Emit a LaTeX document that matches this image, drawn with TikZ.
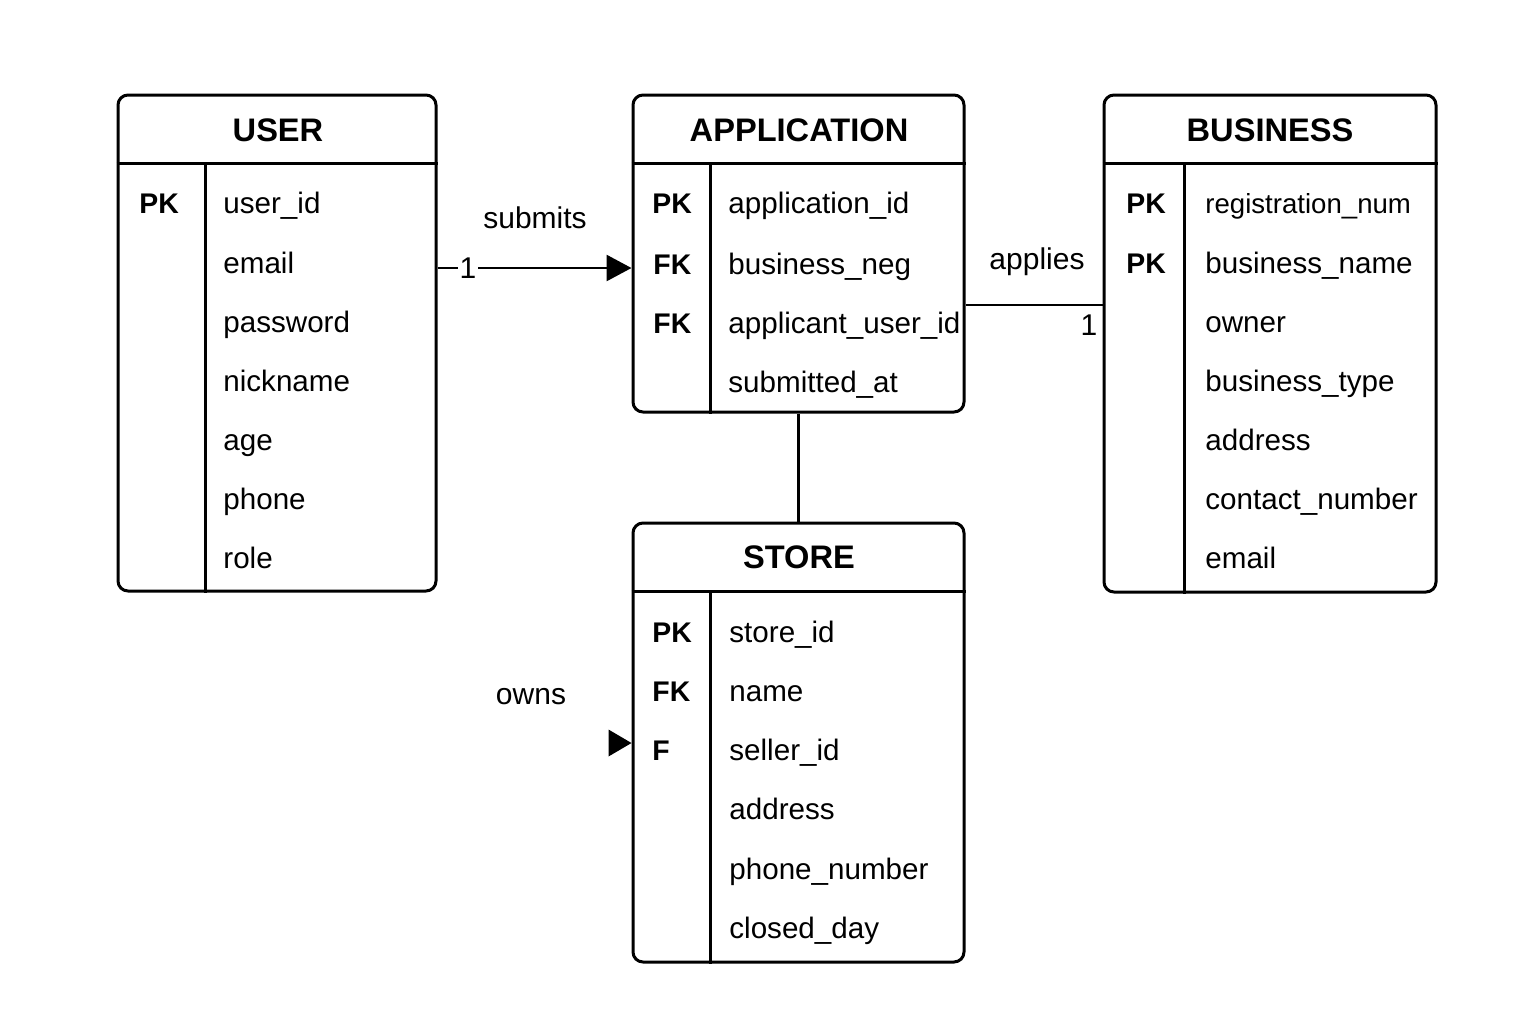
\documentclass[tikz,border=0pt]{standalone}
\usepackage{fontspec}
\setmainfont{Liberation Sans}
\usetikzlibrary{arrows.meta}
\begin{document}
\begin{tikzpicture}[x=0.5pt,y=-0.5pt,
  tbl/.style={draw, line width=1.5pt, rounded corners=5pt, rectangle, inner sep=0pt},
  ttl/.style={anchor=base, inner sep=0pt, font=\fontsize{16.3}{19}\selectfont\bfseries},
  key/.style={anchor=base west, inner sep=0pt, font=\fontsize{14.2}{17}\selectfont\bfseries},
  attr/.style={anchor=base west, inner sep=0pt, font=\fontsize{14.8}{17}\selectfont},
  lbl/.style={anchor=base, inner sep=0pt, font=\fontsize{15}{18}\selectfont},
  sepline/.style={line width=1.5pt},
  conn/.style={line width=1.4pt}
]
\useasboundingbox (0,0) rectangle (1536,1024);

% ---------- tables ----------
\node[tbl, minimum width=159pt, minimum height=248pt] (user) at (277,343) {};
\node[tbl, minimum width=165.5pt, minimum height=158.5pt] (app) at (798.5,253.5) {};
\node[tbl, minimum width=166pt, minimum height=248.5pt] (bus) at (1270,343.5) {};
\node[tbl, minimum width=165.5pt, minimum height=219.5pt] (store) at (798.5,742.5) {};

% header separators and column dividers
\draw[sepline] (user.west |- 0,163) -- (user.east |- 0,163);
\draw[sepline] (205,163) -- (205,163 |- user.south);
\draw[sepline] (app.west |- 0,163) -- (app.east |- 0,163);
\draw[sepline] (710,163) -- (710,163 |- app.south);
\draw[sepline] (bus.west |- 0,163) -- (bus.east |- 0,163);
\draw[sepline] (1184,163) -- (1184,163 |- bus.south);
\draw[sepline] (store.west |- 0,591) -- (store.east |- 0,591);
\draw[sepline] (710,591) -- (710,591 |- store.south);

% titles
\node[ttl] (userT) at (278,141) {USER};
\node[ttl] (appT) at (799,141) {APPLICATION};
\node[ttl] (busT) at (1270,141) {BUSINESS};
\node[ttl] (storeT) at (799,568) {STORE};

% USER
\node[key] (uk1) at (139,213) {PK};
\foreach \t/\y [count=\i] in {user\_id/213, email/273, password/332, nickname/391, age/450, phone/509, role/568}
  \node[attr] (ua\i) at (223,\y) {\t};

% APPLICATION
\node[key] (ak1) at (652,213) {PK};
\node[key] (ak2) at (653,274) {FK};
\node[key] (ak3) at (653,333) {FK};
\foreach \t/\y [count=\i] in {application\_id/213, business\_neg/274, applicant\_user\_id/333, submitted\_at/392}
  \node[attr] (aa\i) at (728,\y) {\t};

% BUSINESS
\node[key] (bk1) at (1126,213) {PK};
\node[key] (bk2) at (1126,273) {PK};
\node[attr, font=\fontsize{13.8}{16}\selectfont] (ba1) at (1205,213) {registration\_num};
\foreach \t/\y [count=\i from 2] in {business\_name/273, owner/332, business\_type/391, address/450, contact\_number/509, email/568}
  \node[attr] (ba\i) at (1205,\y) {\t};

% STORE
\node[key] (sk1) at (652,642) {PK};
\node[key] (sk2) at (652,701) {FK};
\node[key] (sk3) at (652,760) {F};
\foreach \t/\y [count=\i] in {store\_id/642, name/701, seller\_id/760, address/819, phone\_number/879, closed\_day/938}
  \node[attr] (sa\i) at (729,\y) {\t};

% ---------- connectors ----------
\draw[conn, -{Triangle[length=12.5pt,width=13pt]}] (user.east |- 0,268) --
  node[pos=0.157, fill=white, inner xsep=1pt, inner ysep=1.5pt, font=\fontsize{15}{18}\selectfont] (oneU) {1}
  (app.west |- 0,268);
\node[lbl] (submitsL) at (535,228) {submits};

\draw[conn] (app.east |- 0,305) -- (bus.west |- 0,305);
\node[lbl] (appliesL) at (1037,269) {applies};
\node[lbl] (oneB) at (1089,335) {1};

\draw[conn] (app.south) -- (store.north);

\node[lbl] (ownsL) at (531,704) {owns};
\coordinate (ownsTip) at (store.west |- 0,743);
\fill (ownsTip) -- ++(-23,-13.5) -- ++(0,27) -- cycle;

\end{tikzpicture}
\end{document}
